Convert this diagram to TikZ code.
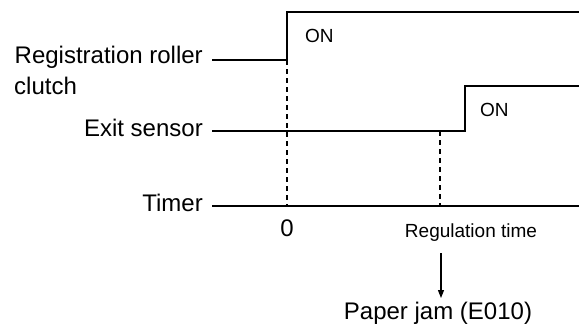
\documentclass[tikz,border=0pt]{standalone}
\usepackage{fontspec}
\setmainfont{Liberation Sans}
\usetikzlibrary{arrows.meta}
\begin{document}
\begin{tikzpicture}[x=1pt,y=-1pt,
  sig/.style={line width=1.3pt},
  guide/.style={line width=1.1pt,dash pattern=on 5pt off 4pt},
  lbl/.style={font=\fontsize{24}{28}\selectfont,inner sep=0pt},
  small/.style={font=\fontsize{19}{22}\selectfont,inner sep=0pt}]
\useasboundingbox (0,0) rectangle (579,327);
% labels
\node[lbl,anchor=east] (rr) at (203,57) {Registration roller};
\node[lbl,anchor=base west] (cl) at (14,94) {clutch};
\node[lbl,anchor=east] (ex) at (203,128) {Exit sensor};
\node[lbl,anchor=east] (tm) at (203,203) {Timer};
% coordinates
\coordinate (r0) at (212,60);
\coordinate (r1) at (287,60);
\coordinate (r2) at (287,12);
\coordinate (r3) at (579,12);
\coordinate (e0) at (212,131);
\coordinate (e1) at (465,131);
\coordinate (e2) at (465,86);
\coordinate (e3) at (579,86);
\coordinate (t0) at (212,206);
\coordinate (t1) at (579,206);
\coordinate (d0) at (287,206);
\coordinate (g0) at (440,131);
\coordinate (g1) at (440,206);
% signals
\draw[sig] (r0) -- (r1) -- (r2) -- (r3);
\draw[sig] (e0) -- (e1) -- (e2) -- (e3);
\draw[sig] (t0) -- (t1);
\draw[guide] (r1) -- (d0);
\draw[guide] (g0) -- (g1);
% texts
\node[small,anchor=west] (on1) at (305,36) {ON};
\node[small,anchor=west] (on2) at (480,110) {ON};
\node[lbl,anchor=center] (zero) at (287,228) {0};
\node[small,anchor=center] (reg) at (471,233) {Regulation time};
\node[lbl,anchor=center] (pj) at (438,313) {Paper jam (E010)};
\coordinate (a0) at (441,253);
\coordinate (a1) at (441,298);
\draw[line width=1.1pt,-{Triangle[length=8pt,width=6pt]}] (a0) -- (a1);
\end{tikzpicture}
\end{document}
